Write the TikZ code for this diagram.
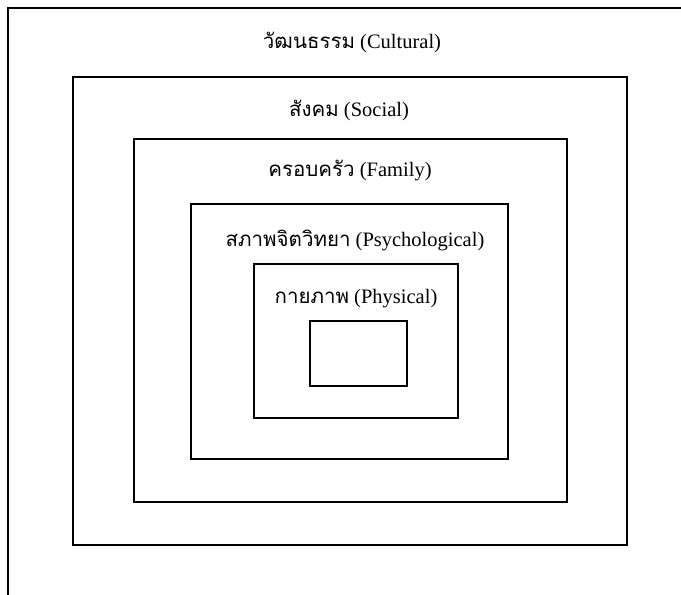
\documentclass[tikz,border=0pt]{standalone}
\usepackage{fontspec}
\setmainfont{Liberation Serif}
\newfontfamily\thaifont[Script=Thai]{Loma}
\begin{document}
\begin{tikzpicture}[x=1pt,y=-1pt,
  box/.style={draw=black, line width=1.5pt},
  lbl/.style={inner sep=0pt, font=\fontsize{20.5}{24}\selectfont}]
\useasboundingbox[fill=white] (0,0) rectangle (681,595);
% outer frame (left and top only)
\draw[box] (8,595) -- (8,8) -- (681,8);
% nested boxes
\draw[box] (73,77) rectangle (627,545);
\draw[box] (134,139) rectangle (567,502);
\draw[box] (191,204) rectangle (508,459);
\draw[box] (254,264) rectangle (458,418);
\draw[box] (310,321) rectangle (407,386);
% labels
\node[lbl] (cultural) at (352,42) {{\thaifont วัฒนธรรม} (Cultural)};
\node[lbl] (social) at (349,110) {{\thaifont สังคม} (Social)};
\node[lbl] (family) at (350,171) {{\thaifont ครอบครัว} (Family)};
\node[lbl] (psych) at (355,240) {{\thaifont สภาพจิตวิทยา} (Psychological)};
\node[lbl] (phys) at (356,299) {{\thaifont กายภาพ} (Physical)};
\end{tikzpicture}
\end{document}
